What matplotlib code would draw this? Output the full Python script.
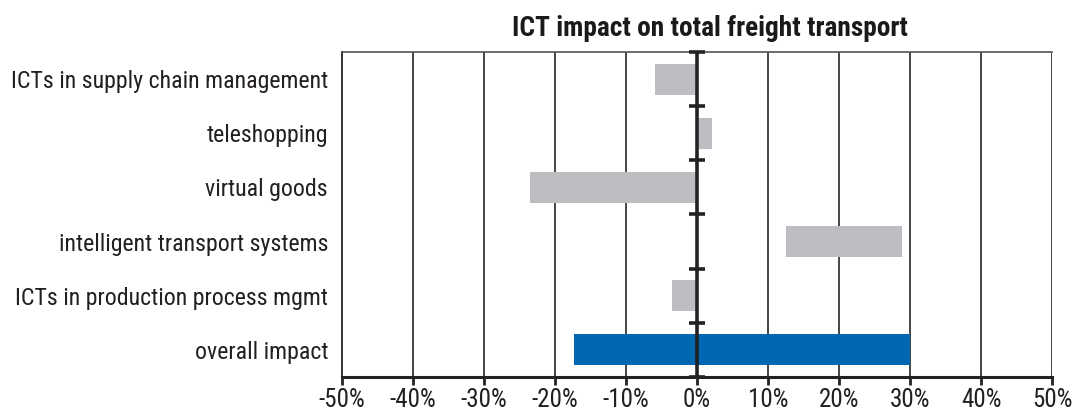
import matplotlib.pyplot as plt
from matplotlib import font_manager

categories = [
    "ICTs in supply chain management",
    "teleshopping",
    "virtual goods",
    "intelligent transport systems",
    "ICTs in production process mgmt",
    "overall impact",
]
# each bar runs from low to high (in %)
low = [-5.9, 0.0, -23.5, 12.5, -3.5, -17.3]
high = [0.0, 2.1, 0.0, 28.9, 0.0, 30.0]
colors = ["#bdbec2"] * 5 + ["#0068b3"]
xticks = list(range(-50, 51, 10))

# pick a condensed sans that is actually installed
names = {f.name for f in font_manager.fontManager.ttflist}
narrow = "DejaVu Sans"
for cand in ["Roboto Condensed", "Liberation Sans Narrow", "Archivo Narrow",
             "Fira Sans Condensed", "Barlow Condensed"]:
    if cand in names:
        narrow = cand
        break
plt.rcParams["font.family"] = [narrow, "DejaVu Sans"]

fig = plt.figure(figsize=(10.76, 4.12), dpi=100)
ax = fig.add_axes([0.3178, 0.085, 0.66, 0.7888])

n = len(categories)
ypos = list(range(n - 1, -1, -1))
widths = [h - l for l, h in zip(low, high)]
ax.barh(ypos, widths, left=low, height=0.57, color=colors, zorder=2)

ax.set_xlim(-50, 50)
ax.set_ylim(-0.5, n - 0.5)

for x in xticks[1:]:
    ax.axvline(x, color="#444444", lw=1.4, zorder=1)
ax.axvline(0, color="#222222", lw=2.6, zorder=3)

# little marks on the zero line between categories
for b in range(n + 1):
    ax.plot([-1.1, 1.1], [b - 0.5, b - 0.5], color="#222222", lw=2.6,
            zorder=4, clip_on=False, solid_capstyle="butt")

ax.set_yticks(ypos)
ax.set_yticklabels(categories, fontsize=17.2, color="#231f20")
ax.tick_params(axis="y", length=0, pad=10)

ax.set_xticks(xticks)
ax.set_xticklabels([f"{v}%" for v in xticks], fontsize=18, color="#231f20")
ax.tick_params(axis="x", length=6, width=2, color="#222222", pad=2)

ax.spines["right"].set_visible(False)
ax.spines["top"].set_color("#555555")
ax.spines["top"].set_linewidth(1.2)
ax.spines["left"].set_color("#333333")
ax.spines["left"].set_linewidth(1.4)
ax.spines["bottom"].set_color("#222222")
ax.spines["bottom"].set_linewidth(2.2)

fig.text(0.66, 0.9126, "ICT impact on total freight transport", ha="center",
         va="baseline", fontsize=19.7, fontweight="bold", color="#1a1a1a")

fig.savefig("out.png", dpi=100)
